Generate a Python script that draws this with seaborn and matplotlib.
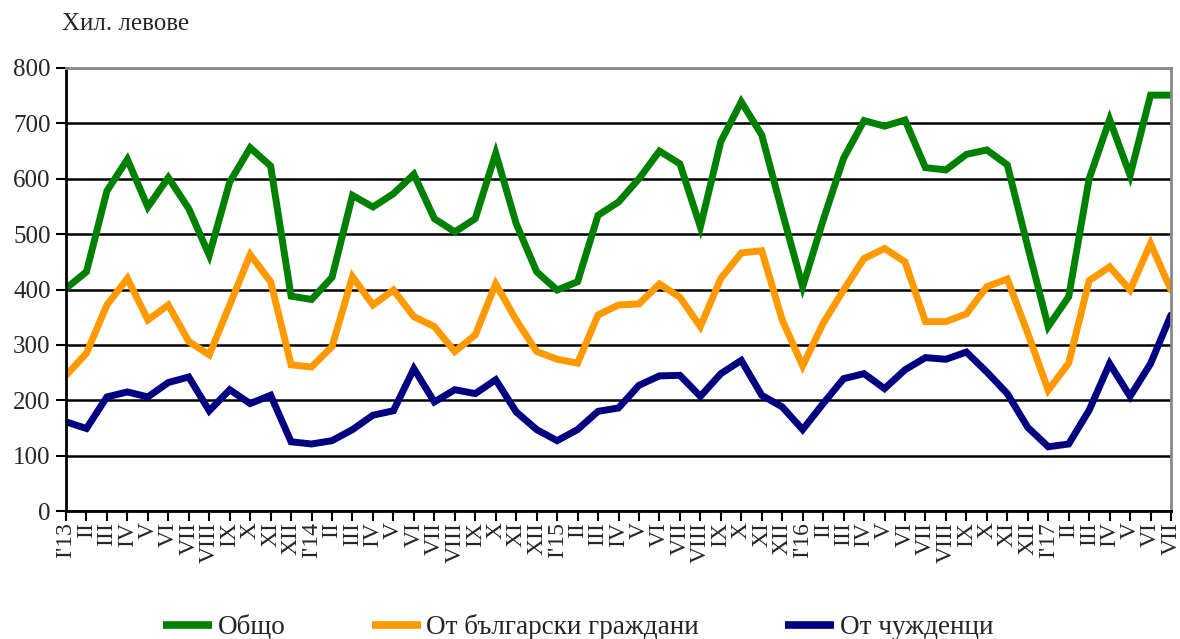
import pandas as pd
import seaborn as sns
import matplotlib.pyplot as plt

# Monthly values, thousand leva, Jan 2013 - Jul 2017
roman = ['I', 'II', 'III', 'IV', 'V', 'VI', 'VII', 'VIII', 'IX', 'X', 'XI', 'XII']
months = []
for yr in ['13', '14', '15', '16', '17']:
    for i, r in enumerate(roman):
        if yr == '17' and i > 6:
            break
        months.append(f"I'{yr}" if i == 0 else r)

total = [402, 432, 578, 635, 549, 602, 546, 462, 594, 656, 623, 388,
         382, 422, 570, 549, 573, 608, 528, 504, 528, 646, 519, 432,
         399, 414, 534, 558, 600, 650, 627, 513, 667, 739, 679, 540,
         405, 525, 637, 705, 695, 706, 620, 616, 644, 652, 625, 477,
         333, 387, 600, 707, 606, 751, 751]
bulgarians = [245, 285, 372, 420, 345, 372, 306, 282, 372, 463, 414, 264,
              260, 297, 423, 372, 399, 351, 333, 288, 318, 410, 345, 288,
              274, 267, 354, 372, 374, 410, 386, 333, 420, 466, 470, 345,
              262, 339, 399, 456, 474, 450, 342, 342, 356, 405, 419, 321,
              218, 267, 416, 441, 399, 483, 399]
foreigners = [161, 149, 206, 215, 206, 232, 242, 181, 219, 194, 209, 125,
              121, 127, 147, 173, 181, 257, 197, 219, 212, 237, 179, 147,
              127, 147, 180, 186, 227, 244, 245, 207, 248, 272, 209, 188,
              147, 194, 239, 248, 221, 255, 277, 274, 287, 251, 212, 151,
              116, 121, 182, 266, 207, 266, 354]

series_names = ['Общо', 'От български граждани', 'От чужденци']
colors = ['#008000', '#FF9900', '#000080']

n = len(months)
df = pd.DataFrame({
    'x': list(range(n)) * 3,
    'value': total + bulgarians + foreigners,
    'series': [series_names[0]] * n + [series_names[1]] * n + [series_names[2]] * n,
})

sns.set_style('white')
plt.rcParams['font.family'] = ['Liberation Serif', 'DejaVu Serif']

fig = plt.figure(figsize=(11.8, 6.39), dpi=100)
ax = fig.add_axes([66 / 1180, 128 / 639, 1105 / 1180, 443 / 639])

sns.lineplot(data=df, x='x', y='value', hue='series', palette=colors,
             hue_order=series_names, linewidth=5, ax=ax, legend=False)
for line in ax.get_lines():
    line.set_solid_joinstyle('miter')

ax.set_xlim(0, n - 1)
ax.set_ylim(0, 800)
ax.set_yticks(range(0, 801, 100))
ax.set_xticks(range(n))
ax.set_xticklabels(months, rotation=90, fontsize=17)
ax.tick_params(axis='y', labelsize=18, length=7, width=1.5, direction='out',
               left=True, color='black', pad=4)
ax.tick_params(axis='x', length=7, width=1.5, direction='out', bottom=True,
               color='black', pad=1)
ax.set_xlabel('')
ax.set_ylabel('')

ax.grid(axis='y', color='black', linewidth=1.8)
ax.grid(axis='x', visible=False)
ax.get_ygridlines()[-1].set_color('#888888')
ax.set_axisbelow(True)

for side in ['left', 'bottom']:
    ax.spines[side].set_color('black')
    ax.spines[side].set_linewidth(2)
for side in ['top', 'right']:
    ax.spines[side].set_color('#888888')
    ax.spines[side].set_linewidth(2)

fig.text(62 / 1180, 1 - 24 / 639, 'Хил. левове', fontsize=18, va='center', ha='left')

handles = [plt.Line2D([], [], color=c, linewidth=5.5, solid_capstyle='butt')
           for c in colors]
fig.legend(handles, series_names, loc='center', bbox_to_anchor=(0.49, 1 - 627 / 639),
           ncol=3, frameon=False, fontsize=19.5, handlelength=1.8,
           handletextpad=0.2, columnspacing=3.2)

fig.savefig('out.png', dpi=100)
